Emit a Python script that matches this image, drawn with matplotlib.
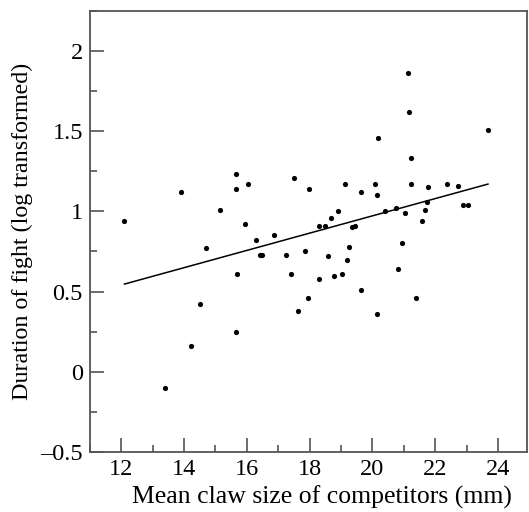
import matplotlib
matplotlib.use("Agg")
import matplotlib.pyplot as plt
from matplotlib.ticker import MultipleLocator, FuncFormatter

# mean claw size of competitors (mm) and log fight duration
claw_size = [12.10, 13.40, 13.90, 14.21, 14.50, 14.71, 15.15, 15.65, 15.65, 15.65,
             15.70, 15.95, 16.04, 16.30, 16.43, 16.49, 16.85, 17.24, 17.40, 17.50,
             17.64, 17.84, 17.95, 17.99, 18.29, 18.29, 18.49, 18.60, 18.69, 18.79,
             18.90, 19.04, 19.14, 19.19, 19.25, 19.34, 19.44, 19.64, 19.64, 20.09,
             20.14, 20.15, 20.19, 20.39, 20.74, 20.83, 20.94, 21.04, 21.13, 21.18,
             21.23, 21.23, 21.39, 21.59, 21.69, 21.73, 21.78, 22.39, 22.74, 22.89,
             23.04, 23.68]
duration = [0.94, -0.10, 1.12, 0.16, 0.42, 0.77, 1.01, 1.23, 1.14, 0.25,
            0.61, 0.92, 1.17, 0.82, 0.73, 0.73, 0.85, 0.73, 0.61, 1.21,
            0.38, 0.75, 0.46, 1.14, 0.91, 0.58, 0.91, 0.72, 0.96, 0.60,
            1.00, 0.61, 1.17, 0.70, 0.78, 0.90, 0.91, 1.12, 0.51, 1.17,
            1.10, 0.36, 1.46, 1.00, 1.02, 0.64, 0.80, 0.99, 1.86, 1.62,
            1.33, 1.17, 0.46, 0.94, 1.01, 1.06, 1.15, 1.17, 1.16, 1.04,
            1.04, 1.51]

# regression line end points
fit_x = [12.10, 23.68]
fit_y = [0.547, 1.17]

plt.rcParams["font.family"] = ["Liberation Serif", "DejaVu Serif"]

fig = plt.figure(figsize=(5.29, 5.12), dpi=100)
ax = fig.add_axes([0.170, 0.117, 0.826, 0.862])

ax.scatter(claw_size, duration, s=14, color="black", linewidths=0, zorder=3)
ax.plot(fit_x, fit_y, color="black", linewidth=1.1)

ax.set_xlim(11, 24.92)
ax.set_ylim(-0.5, 2.25)

ax.xaxis.set_major_locator(MultipleLocator(2))
ax.xaxis.set_minor_locator(MultipleLocator(1))
ax.yaxis.set_major_locator(MultipleLocator(0.5))
ax.yaxis.set_minor_locator(MultipleLocator(0.25))

def fmt(v, pos):
    if abs(v) < 1e-9:
        return "0"
    s = ("%g" % v)
    return s.replace("-", "\u2013")

ax.yaxis.set_major_formatter(FuncFormatter(fmt))

ax.tick_params(which="major", direction="in", length=10, width=1.1,
               colors="#444444", labelcolor="black", labelsize=17.5, pad=5)
ax.tick_params(which="minor", direction="in", length=5, width=1.1, colors="#444444")

for sp in ax.spines.values():
    sp.set_color("#555555")
    sp.set_linewidth(1.3)

ax.set_xlabel("Mean claw size of competitors (mm)", fontsize=18.5)
ax.xaxis.set_label_coords(0.532, -0.076)
ax.set_ylabel("Duration of fight (log transformed)", fontsize=17.3, labelpad=5)

fig.savefig("out.png", dpi=100)
